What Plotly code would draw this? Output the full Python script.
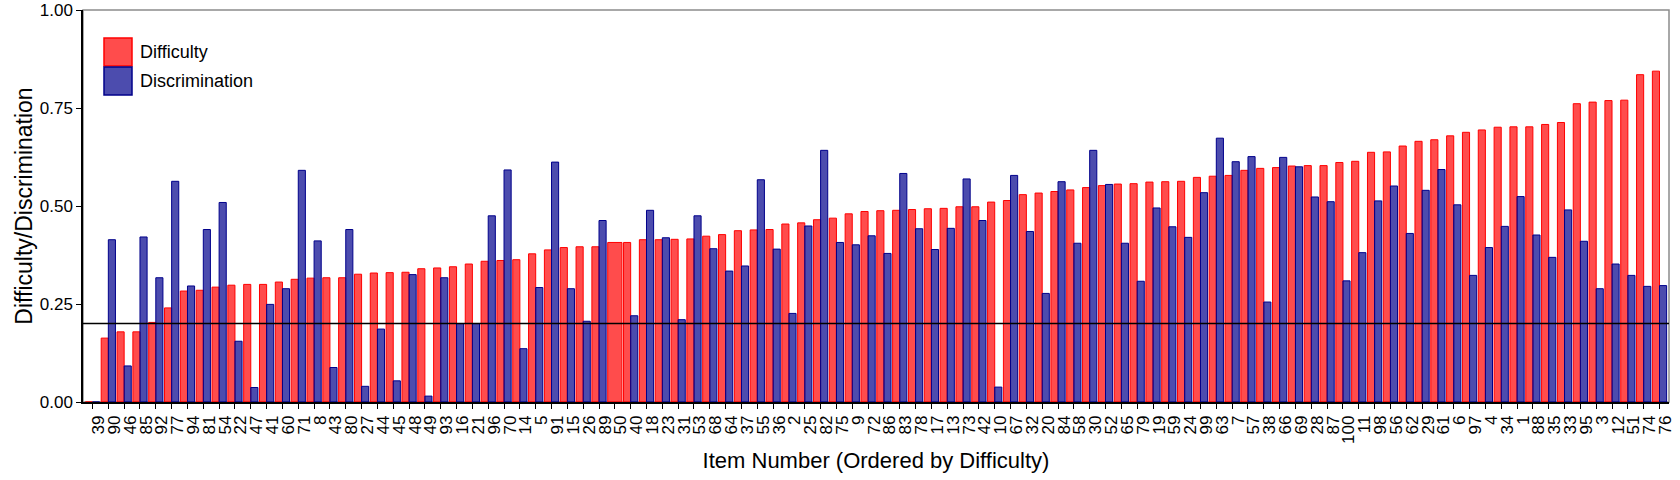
import math
import plotly.graph_objects as go

# ---- data ----
items = [39, 90, 46, 85, 92, 77, 94, 81, 54, 22, 47, 41, 60, 71, 8, 43, 80, 27, 44, 45,
         48, 49, 93, 16, 21, 96, 70, 14, 5, 91, 15, 26, 89, 50, 40, 18, 23, 31, 53, 68,
         64, 37, 55, 36, 2, 25, 82, 75, 9, 72, 86, 83, 78, 17, 13, 73, 42, 10, 67, 32,
         20, 84, 58, 30, 52, 65, 79, 19, 59, 24, 99, 63, 7, 57, 38, 66, 69, 28, 87, 100,
         11, 98, 56, 62, 29, 61, 6, 97, 4, 34, 1, 88, 35, 33, 95, 3, 12, 51, 74, 76]

difficulty = [0.000, 0.163, 0.179, 0.179, 0.203, 0.240, 0.283, 0.285, 0.293, 0.298,
              0.300, 0.300, 0.306, 0.313, 0.316, 0.317, 0.317, 0.326, 0.329, 0.330,
              0.331, 0.340, 0.342, 0.345, 0.352, 0.359, 0.361, 0.363, 0.378, 0.388,
              0.394, 0.396, 0.396, 0.407, 0.407, 0.414, 0.414, 0.415, 0.416, 0.423,
              0.427, 0.437, 0.439, 0.440, 0.454, 0.457, 0.465, 0.469, 0.480, 0.486,
              0.488, 0.489, 0.491, 0.493, 0.494, 0.498, 0.498, 0.510, 0.514, 0.529,
              0.533, 0.537, 0.541, 0.547, 0.552, 0.556, 0.557, 0.561, 0.562, 0.563,
              0.573, 0.576, 0.578, 0.591, 0.596, 0.598, 0.602, 0.603, 0.603, 0.611,
              0.614, 0.637, 0.638, 0.653, 0.665, 0.669, 0.679, 0.688, 0.694, 0.701,
              0.702, 0.702, 0.708, 0.713, 0.761, 0.765, 0.769, 0.770, 0.835, 0.844]

discrimination = [0.000, 0.414, 0.092, 0.421, 0.317, 0.563, 0.296, 0.440, 0.509, 0.155,
                  0.037, 0.249, 0.289, 0.591, 0.411, 0.088, 0.440, 0.040, 0.186, 0.054,
                  0.325, 0.015, 0.317, 0.200, 0.200, 0.475, 0.592, 0.136, 0.292, 0.612,
                  0.289, 0.206, 0.463, None, 0.220, 0.489, 0.419, 0.210, 0.475, 0.391,
                  0.334, 0.347, 0.567, 0.390, 0.226, 0.449, 0.642, 0.407, 0.401, 0.424,
                  0.379, 0.583, 0.442, 0.389, 0.443, 0.569, 0.463, 0.038, 0.578, 0.435,
                  0.277, 0.562, 0.405, 0.642, 0.555, 0.405, 0.308, 0.495, 0.447, 0.420,
                  0.534, 0.673, 0.613, 0.626, 0.255, 0.624, 0.600, 0.523, 0.511, 0.309,
                  0.381, 0.513, 0.551, 0.430, 0.540, 0.593, 0.503, 0.323, 0.394, 0.448,
                  0.524, 0.426, 0.369, 0.490, 0.410, 0.289, 0.352, 0.323, 0.295, 0.297]

series_names = ["Difficulty", "Discrimination"]
threshold = 0.2
y_ticks = [0, 0.25, 0.5, 0.75, 1.0]

labels = [str(i) for i in items]

# ---- styling ----
FONT = "Liberation Sans, Arial, Helvetica, sans-serif"
FILLS = ["rgba(255,0,0,0.7)", "rgba(0,0,139,0.7)"]
LINES = ["rgb(255,0,0)", "rgb(0,0,139)"]

# dodge widths: a lone bar (other value missing) takes the full slot, like ggplot's dodge
GROUP_W = 0.9
has_disc = [d is not None and not (isinstance(d, float) and math.isnan(d)) for d in discrimination]
diff_width = [GROUP_W / 2 if h else GROUP_W for h in has_disc]
diff_offset = [-GROUP_W / 2] * len(items)
disc_width = [GROUP_W / 2] * len(items)
disc_offset = [0.0] * len(items)

fig = go.Figure()
fig.add_trace(go.Bar(
    x=labels, y=difficulty, name=series_names[0],
    width=diff_width, offset=diff_offset, showlegend=False,
    marker=dict(color=FILLS[0], line=dict(color=LINES[0], width=1)),
))
fig.add_trace(go.Bar(
    x=labels, y=discrimination, name=series_names[1],
    width=disc_width, offset=disc_offset, showlegend=False,
    marker=dict(color=FILLS[1], line=dict(color=LINES[1], width=1)),
))

# panel border (grey top/right), reference line
fig.add_shape(type="rect", xref="paper", yref="paper", x0=0, x1=1, y0=0, y1=1,
              line=dict(color="#8c8c8c", width=1.5), layer="below")
fig.add_shape(type="line", xref="paper", yref="y", x0=0, x1=1, y0=threshold, y1=threshold,
              line=dict(color="black", width=1.5))

# legend (large square keys, as in the reference)
KEY = 28
KEY_LEFT = 21
KEY_TOP = 28
for k, (nm, fc, lc) in enumerate(zip(series_names, FILLS, LINES)):
    top = KEY_TOP + k * (KEY + 1)
    fig.add_shape(type="rect", xref="paper", yref="paper",
                  xsizemode="pixel", ysizemode="pixel", xanchor=0, yanchor=1,
                  x0=KEY_LEFT, x1=KEY_LEFT + KEY, y0=-top, y1=-(top + KEY),
                  fillcolor=fc, line=dict(color=lc, width=1.5), layer="above")
    fig.add_annotation(xref="paper", yref="paper", x=0, y=1,
                       xshift=KEY_LEFT + KEY + 6, yshift=-(top + KEY / 2),
                       xanchor="left", yanchor="middle", showarrow=False,
                       text=nm, font=dict(size=18, family=FONT, color="black"))

fig.update_layout(
    width=1680, height=480,
    margin=dict(l=83, r=11, t=10, b=78, autoexpand=False),
    paper_bgcolor="white", plot_bgcolor="white",
    barmode="overlay",
    font=dict(family=FONT, color="black"),
    showlegend=False,
    xaxis=dict(
        type="category", categoryorder="array", categoryarray=labels,
        tickmode="array", tickvals=labels, ticktext=labels,
        tickangle=-90, tickfont=dict(size=17, family=FONT),
        ticks="outside", ticklen=5, tickcolor="black", tickwidth=1,
        showline=True, linecolor="black", linewidth=1.5,
        showgrid=False, zeroline=False, ticklabelshift=6,
        title=dict(text="Item Number (Ordered by Difficulty)", font=dict(size=22, family=FONT),
                   standoff=10),
        automargin=False, range=[-0.6, len(items) - 0.4],
    ),
    yaxis=dict(
        range=[0, 1], tickvals=y_ticks, tickformat=".2f",
        tickfont=dict(size=17, family=FONT),
        ticks="outside", ticklen=5, tickcolor="black", tickwidth=1,
        showline=True, linecolor="black", linewidth=1.5,
        showgrid=False, zeroline=False,
        title=dict(text="Difficulty/Discrimination", font=dict(size=23, family=FONT),
                   standoff=1),
        automargin=False,
    ),
)

fig.write_html("out.html")
